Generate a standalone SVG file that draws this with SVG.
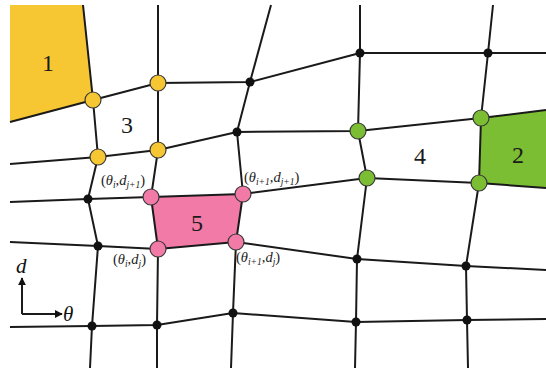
<svg xmlns="http://www.w3.org/2000/svg" width="546" height="371" viewBox="0 0 546 371">
<defs>
<style>
.ln{fill:none;stroke:#1a1a1a;stroke-width:2;stroke-linejoin:round}
.blk{fill:#111}
.yel{fill:#F6C733;stroke:#3a3a3a;stroke-width:1.2}
.grn{fill:#7BBD33;stroke:#3a3a3a;stroke-width:1.2}
.pnk{fill:#F27AA6;stroke:#3a3a3a;stroke-width:1.2}
.num{font-family:"Liberation Serif",serif;font-size:24px;fill:#1a1a1a;text-anchor:middle}
.lbl{font-family:"Liberation Serif",serif;font-size:14.5px;fill:#222}
.ax{font-family:"Liberation Serif",serif;font-size:21px;font-style:italic;fill:#111}
.it{font-style:italic}
.sub{font-style:italic;font-size:9.5px}
</style>
<marker id="ah" viewBox="0 0 10 10" refX="9" refY="5" markerWidth="8" markerHeight="8" orient="auto" markerUnits="userSpaceOnUse">
<path d="M0,0 L10,5 L0,10 z" fill="#111"/>
</marker>
</defs>
<rect width="546" height="371" fill="#fff"/>

<g id="region1"><polygon points="10,5 83,5 93,100 10,122" fill="#F6C733"/><text class="num" x="48" y="71">1</text></g>
<g id="region2"><polygon points="481,118 546,110 546,188 479,183" fill="#7BBD33"/><text class="num" x="518" y="163">2</text></g>
<g id="region3"><text class="num" x="127" y="133">3</text></g>
<g id="region4"><text class="num" x="420" y="164">4</text></g>
<g id="region5"><polygon points="151,197 243,194 236,242 158,249" fill="#F27AA6"/><text class="num" x="197" y="231">5</text></g>

<g id="connectors">
<polyline class="ln" points="10,122 93,100 158,83 250,82 360,53 488,53 546,53"/>
<polyline class="ln" points="10,164 98,157 158,150 237,132 358,131 481,118 546,110"/>
<polyline class="ln" points="10,202 88,199 151,197 243,194 367,178 479,183 546,188"/>
<polyline class="ln" points="10,242 98,246 158,249 236,242 357,259 466,266 546,270"/>
<polyline class="ln" points="10,327 92,326 157,325 233,313 356,322 467,320 546,319"/>
<polyline class="ln" points="83,5 93,100 98,157 88,199 98,246 92,326 90,368"/>
<polyline class="ln" points="158,5 158,83 158,150 151,197 158,249 157,325 157,368"/>
<polyline class="ln" points="271,5 250,82 237,132 243,194 236,242 233,313 231,368"/>
<polyline class="ln" points="360,5 360,53 358,131 367,178 357,259 356,322 355,368"/>
<polyline class="ln" points="493,5 488,53 481,118 479,183 466,266 467,320 468,368"/>
<line class="ln" x1="22" y1="314" x2="22" y2="278" stroke-width="1.5" marker-end="url(#ah)"/>
<line class="ln" x1="22" y1="314" x2="62" y2="314" stroke-width="1.5" marker-end="url(#ah)"/>
</g>

<g id="n-a1"><circle class="yel" cx="93" cy="100" r="8"/></g>
<g id="n-a2"><circle class="yel" cx="158" cy="83" r="8"/></g>
<g id="n-a3"><circle class="blk" cx="250" cy="82" r="4.5"/></g>
<g id="n-a4"><circle class="blk" cx="360" cy="53" r="4.5"/></g>
<g id="n-a5"><circle class="blk" cx="488" cy="53" r="4.5"/></g>

<g id="n-b1"><circle class="yel" cx="98" cy="157" r="8"/></g>
<g id="n-b2"><circle class="yel" cx="158" cy="150" r="8"/></g>
<g id="n-b3"><circle class="blk" cx="237" cy="132" r="4.5"/></g>
<g id="n-b4"><circle class="grn" cx="358" cy="131" r="8"/></g>
<g id="n-b5"><circle class="grn" cx="481" cy="118" r="8"/></g>

<g id="n-c1"><circle class="blk" cx="88" cy="199" r="4.5"/></g>
<g id="n-c2"><circle class="pnk" cx="151" cy="197" r="8"/></g>
<g id="n-c3"><circle class="pnk" cx="243" cy="194" r="8"/></g>
<g id="n-c4"><circle class="grn" cx="367" cy="178" r="8"/></g>
<g id="n-c5"><circle class="grn" cx="479" cy="183" r="8"/></g>

<g id="n-d1"><circle class="blk" cx="98" cy="246" r="4.5"/></g>
<g id="n-d2"><circle class="pnk" cx="158" cy="249" r="8"/></g>
<g id="n-d3"><circle class="pnk" cx="236" cy="242" r="8"/></g>
<g id="n-d4"><circle class="blk" cx="357" cy="259" r="4.5"/></g>
<g id="n-d5"><circle class="blk" cx="466" cy="266" r="4.5"/></g>

<g id="n-e1"><circle class="blk" cx="92" cy="326" r="4.5"/></g>
<g id="n-e2"><circle class="blk" cx="157" cy="325" r="4.5"/></g>
<g id="n-e3"><circle class="blk" cx="233" cy="313" r="4.5"/></g>
<g id="n-e4"><circle class="blk" cx="356" cy="322" r="4.5"/></g>
<g id="n-e5"><circle class="blk" cx="467" cy="320" r="4.5"/></g>

<g id="labels">
<text class="lbl" x="101" y="185">(<tspan class="it">θ</tspan><tspan class="sub" dy="3">i</tspan><tspan dy="-3">,</tspan><tspan class="it">d</tspan><tspan class="sub" dy="3">j+1</tspan><tspan dy="-3">)</tspan></text>
<text class="lbl" x="244" y="182">(<tspan class="it">θ</tspan><tspan class="sub" dy="3">i+1</tspan><tspan dy="-3">,</tspan><tspan class="it">d</tspan><tspan class="sub" dy="3">j+1</tspan><tspan dy="-3">)</tspan></text>
<text class="lbl" x="113" y="264">(<tspan class="it">θ</tspan><tspan class="sub" dy="3">i</tspan><tspan dy="-3">,</tspan><tspan class="it">d</tspan><tspan class="sub" dy="3">j</tspan><tspan dy="-3">)</tspan></text>
<text class="lbl" x="236" y="262">(<tspan class="it">θ</tspan><tspan class="sub" dy="3">i+1</tspan><tspan dy="-3">,</tspan><tspan class="it">d</tspan><tspan class="sub" dy="3">j</tspan><tspan dy="-3">)</tspan></text>
</g>

<g id="axes">
<text class="ax" x="16" y="273">d</text>
<text class="ax" x="63" y="321">θ</text>
</g>
</svg>
